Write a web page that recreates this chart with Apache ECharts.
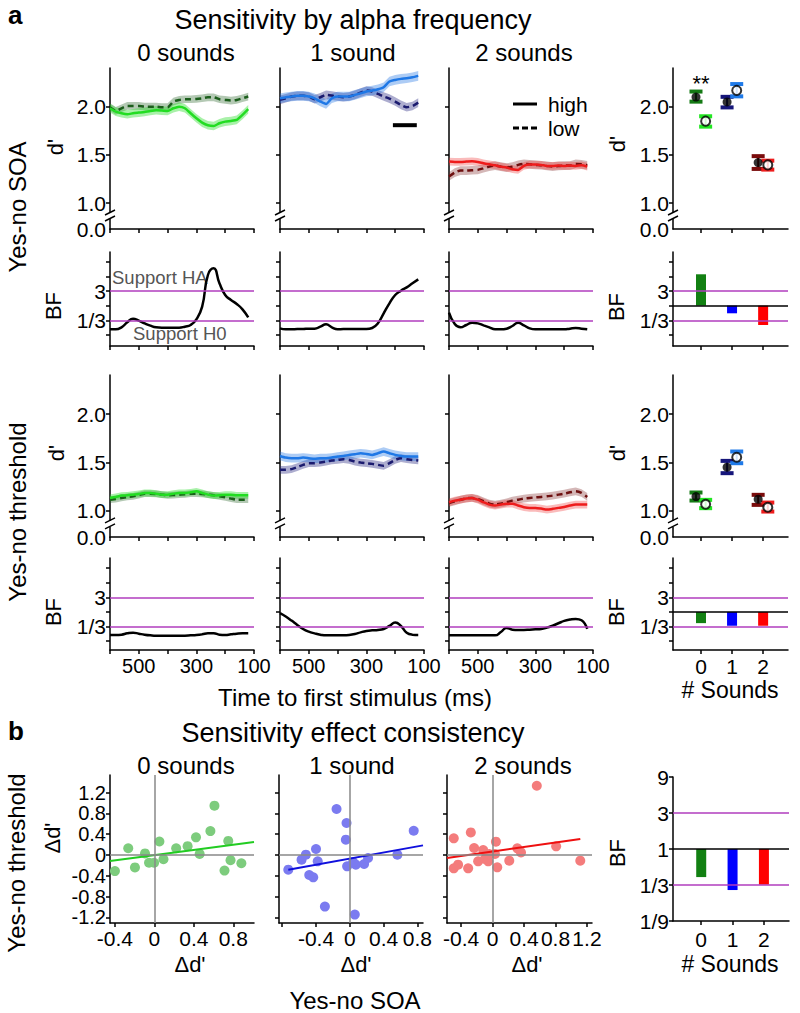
<!DOCTYPE html>
<html><head><meta charset="utf-8">
<script src="https://cdn.jsdelivr.net/npm/echarts@6/dist/echarts.min.js"></script>
<style>html,body{margin:0;padding:0;background:#fff}#c{width:800px;height:1013px}</style>
</head><body><div id="c"></div>
<script>
// ---------------- DATA ----------------
const time = [600,580,560,540,520,500,480,460,440,420,400,380,360,340,320,300,280,260,240,220,200,180,160,140,120];

// d' Yes-no SOA (high = solid, low = dashed)
const soaHigh0 = [1.986,1.951,1.934,1.924,1.934,1.941,1.948,1.958,1.965,1.962,1.958,1.986,2.003,1.986,1.934,1.882,1.837,1.809,1.802,1.830,1.847,1.854,1.865,1.917,1.976];
const soaLow0  = [1.997,1.958,1.986,2.010,2.010,2.010,2.003,2.003,2.003,1.997,1.997,2.056,2.073,2.080,2.080,2.083,2.090,2.100,2.100,2.080,2.073,2.066,2.073,2.090,2.108];
const soaHigh1 = [2.090,2.101,2.108,2.115,2.115,2.108,2.090,2.056,2.031,2.090,2.108,2.108,2.108,2.125,2.142,2.160,2.170,2.184,2.205,2.264,2.281,2.292,2.299,2.309,2.323];
const soaLow1  = [2.073,2.090,2.108,2.115,2.115,2.108,2.080,2.101,2.125,2.118,2.108,2.101,2.108,2.125,2.149,2.170,2.160,2.135,2.108,2.087,2.056,2.021,1.997,2.010,2.045];
const soaHigh2 = [1.431,1.428,1.428,1.431,1.434,1.428,1.414,1.403,1.393,1.379,1.369,1.352,1.345,1.386,1.400,1.400,1.397,1.386,1.386,1.390,1.386,1.390,1.386,1.393,1.379];
const soaLow2  = [1.276,1.317,1.338,1.338,1.341,1.345,1.362,1.379,1.390,1.379,1.369,1.379,1.397,1.407,1.403,1.397,1.393,1.386,1.379,1.386,1.390,1.390,1.407,1.403,1.393];
// d' Yes-no threshold
const thrHigh0 = [1.134,1.144,1.158,1.161,1.168,1.175,1.185,1.185,1.178,1.168,1.168,1.178,1.185,1.185,1.192,1.202,1.185,1.168,1.158,1.161,1.168,1.168,1.161,1.161,1.161];
const thrLow0  = [1.116,1.123,1.134,1.144,1.151,1.164,1.178,1.178,1.175,1.168,1.161,1.164,1.168,1.171,1.178,1.178,1.175,1.168,1.161,1.151,1.140,1.127,1.116,1.116,1.116];
const thrHigh1 = [1.568,1.551,1.545,1.545,1.551,1.545,1.538,1.545,1.545,1.551,1.562,1.568,1.579,1.586,1.596,1.589,1.579,1.596,1.613,1.596,1.579,1.568,1.562,1.562,1.562];
const thrLow1  = [1.425,1.425,1.432,1.452,1.476,1.493,1.493,1.500,1.510,1.521,1.527,1.534,1.527,1.510,1.500,1.493,1.486,1.476,1.466,1.493,1.527,1.545,1.534,1.527,1.521];
const thrHigh2 = [1.089,1.106,1.116,1.127,1.134,1.116,1.089,1.065,1.055,1.065,1.075,1.075,1.055,1.038,1.031,1.031,1.024,1.014,1.021,1.031,1.041,1.055,1.065,1.065,1.065];
const thrLow2  = [1.082,1.099,1.116,1.130,1.134,1.123,1.099,1.075,1.065,1.075,1.089,1.106,1.116,1.127,1.134,1.140,1.144,1.151,1.158,1.168,1.178,1.192,1.202,1.185,1.144];
// SEM half-widths of shaded bands [high, low] per sound condition
const semSoa = [[0.045,0.040],[0.050,0.045],[0.040,0.045]];
const semThr = [[0.035,0.035],[0.045,0.040],[0.040,0.040]];

// Bayes factors, log base 3 (1 -> BF 3, -1 -> BF 1/3)
const bfSoa0 = [-1.614,-1.614,-1.477,-1.136,-0.886,-1.023,-1.205,-1.364,-1.477,-1.5,-1.5,-1.5,-1.5,-1.432,-1.318,-0.932,-0.068,2.091,2.545,1.523,0.727,0.386,0.114,-0.25,-0.795];
const bfSoa1 = [-1.545,-1.614,-1.614,-1.591,-1.591,-1.568,-1.568,-1.432,-1.273,-1.477,-1.614,-1.591,-1.591,-1.591,-1.591,-1.591,-1.523,-1.205,-0.523,0.159,0.727,1.023,1.25,1.523,1.795];
const bfSoa2 = [-0.477,-1.25,-1.477,-1.318,-1.159,-1.205,-1.341,-1.477,-1.614,-1.614,-1.568,-1.386,-1.159,-1.341,-1.545,-1.614,-1.614,-1.614,-1.614,-1.614,-1.614,-1.568,-1.523,-1.568,-1.614];
const bfThr0 = [-1.575,-1.575,-1.552,-1.46,-1.414,-1.483,-1.552,-1.598,-1.621,-1.621,-1.621,-1.621,-1.621,-1.621,-1.598,-1.575,-1.529,-1.46,-1.46,-1.552,-1.575,-1.529,-1.483,-1.46,-1.46];
const bfThr1 = [-0.08,-0.31,-0.586,-0.885,-1.161,-1.345,-1.46,-1.552,-1.598,-1.598,-1.598,-1.598,-1.575,-1.506,-1.391,-1.299,-1.253,-1.23,-1.161,-0.954,-0.724,-0.954,-1.414,-1.552,-1.575];
const bfThr2 = [-1.598,-1.598,-1.598,-1.598,-1.598,-1.598,-1.598,-1.598,-1.598,-1.368,-1.092,-1.207,-1.23,-1.23,-1.207,-1.184,-1.161,-1.069,-0.931,-0.77,-0.609,-0.517,-0.471,-0.563,-1.161];

// summary d' (0,1,2 sounds)
const sumSoaLow  = {mean:[2.103,2.052,1.421], lo:[2.055,1.995,1.355], hi:[2.160,2.105,1.488]};
const sumSoaHigh = {mean:[1.852,2.172,1.397], lo:[1.795,2.110,1.348], hi:[1.903,2.238,1.441]};
const sumThrLow  = {mean:[1.148,1.452,1.121], lo:[1.107,1.390,1.062], hi:[1.190,1.517,1.166]};
const sumThrHigh = {mean:[1.069,1.555,1.038], lo:[1.028,1.493,0.993], hi:[1.114,1.614,1.086]};
// summary BF (log3)
const sumBfSoa = [2.14,-0.52,-1.32];
const sumBfThr = [-0.76,-0.94,-0.94];
const sumBfCons = [-0.78,-1.14,-0.99];

// panel b scatter [Δd' SOA, Δd' threshold]
const cons0 = [[-0.40,-0.31],[-0.265,0.13],[-0.197,-0.24],[-0.095,0.03],[-0.054,-0.15],[-0.003,-0.15],[0.051,0.26],[0.092,-0.08],[0.221,0.13],[0.337,0.17],[0.422,0.34],[0.459,0.02],[0.568,0.46],[0.609,0.95],[0.711,-0.30],[0.749,0.27],[0.772,-0.10],[0.882,-0.16]];
const cons1 = [[-0.728,-0.283],[-0.571,-0.09],[-0.52,0.006],[-0.48,-0.385],[-0.433,-0.43],[-0.40,0.115],[-0.38,-0.123],[-0.295,-0.994],[-0.157,0.885],[-0.039,0.615],[-0.047,0.294],[-0.032,-0.219],[0.059,-1.148],[0.071,-0.187],[0.039,-0.135],[0.169,-0.173],[0.216,-0.058],[0.563,0.006],[0.756,0.467]];
const cons2 = [[-0.494,0.32],[-0.494,-0.257],[-0.439,-0.187],[-0.311,-0.257],[-0.277,0.435],[-0.235,0.135],[-0.184,-0.122],[-0.12,0.096],[-0.098,-0.077],[-0.056,-0.122],[-0.043,0.019],[0.03,0.019],[0.042,0.256],[0.059,-0.238],[0.212,-0.11],[0.314,0.128],[0.361,0.05],[0.562,1.333],[0.808,0.166],[1.115,-0.11]];
const fit0 = [[-0.45,-0.115],[1.01,0.25]];
const fit1 = [[-0.728,-0.283],[0.866,0.185]];
const fit2 = [[-0.58,-0.058],[1.115,0.307]];
const scaleBar = [[208,1.81],[125,1.81]];
const sigMark = [0,2.24];

const dTicks = [1,1.5,2];
const bfTicks = [-2,-1,0,1,2,3];
const consTicksY = [-1.2,-0.8,-0.4,0,0.4,0.8,1.2];
const consTicksX = [[-0.4,0,0.4,0.8],[-0.8,-0.4,0,0.4,0.8],[-0.4,0,0.4,0.8,1.2]];
const consLabelsX = [[-0.4,0,0.4,0.8],[-0.4,0,0.4,0.8],[-0.4,0,0.4,0.8,1.2]];
const soundsTitles = ['0 sounds','1 sound','2 sounds'];

// ---------------- STYLE / LAYOUT ----------------
const FONT = "'Liberation Sans', Arial, Helvetica, sans-serif";
const chart = echarts.init(document.getElementById('c'), null, {renderer:'svg', width:800, height:1013});
const colL=[110,280,449,673], colW=[144,144,144,115];
const rowT=[68,252,375,558], rowH=[161,94,162,92];
const bL=[110,279,447,673], bW=[144,144,145,116];
const dRange=[0.73,2.405];
const bfRange=[[-2.75,3.66],[-2.6,3.7]];
const hiCol=['#22dd22','#1f78e6','#ee1c1c'], loCol=['#1b5e1b','#1a1a6e','#6e0f0f'];
const hiBand=['rgba(40,220,40,0.40)','rgba(40,120,230,0.38)','rgba(240,60,60,0.35)'];
const loBand=['rgba(40,100,40,0.35)','rgba(40,40,130,0.38)','rgba(120,30,30,0.32)'];
const capLo=['#157a15','#16167a','#7a0c0c'], capHi=['#22e622','#1f7ae8','#ee1c1c'];
const barCol=['#128012','#0000ff','#ff0000'];
const scatCol=['#7dcc7d','#7b7bf0','#f47c7c'], fitCol=['#22cc22','#1010dd','#ee1010'];
const MAG='#b03cbe';
const TS=21;

const grid=[], xAxis=[], yAxis=[], series=[];
const axLine={show:true,onZero:false,lineStyle:{color:'#000',width:1.5}};
const tick=(vals)=>({show:true,length:4,customValues:vals,lineStyle:{color:'#000',width:1.5}});
const lab=(show,vals,fmt,margin,fs)=>({show,customValues:vals,formatter:fmt,color:'#000',fontSize:fs||TS,lineHeight:16,fontFamily:FONT,
  interval:0,hideOverlap:false,showMinLabel:true,showMaxLabel:true,margin:margin==null?5:margin});
const dFmt=v=>v<0.9?'0.0':v.toFixed(1);
const bfFmt=v=>v>0?'3':'1/3';

for(let r=0;r<4;r++) for(let c=0;c<4;c++){
  const gi=r*4+c;
  grid.push({left:colL[c],top:rowT[r],width:colW[c],height:rowH[r],containLabel:false,outerBoundsMode:'none'});
  if(c<3){
    xAxis.push({type:'value',gridIndex:gi,min:100,max:600,interval:100,inverse:true,axisLine:axLine,splitLine:{show:false},
      axisTick:{show:true,length:4,lineStyle:{color:'#000',width:1.5}},
      axisLabel:{show:r===3,color:'#000',fontSize:20,lineHeight:16,fontFamily:FONT,margin:8,formatter:v=>(v===500||v===300||v===100)?String(v):''}});
  } else {
    xAxis.push({type:'value',gridIndex:gi,min:-0.9,max:2.8,axisLine:axLine,splitLine:{show:false},
      axisTick:tick([0,1,2]),axisLabel:lab(r===3,[0,1,2],v=>String(v),8)});
  }
  const showY=(c===0||c===3);
  if(r%2===0){
    yAxis.push({type:'value',gridIndex:gi,min:dRange[0],max:dRange[1],axisLine:axLine,splitLine:{show:false},
      axisTick:tick(dTicks),axisLabel:lab(showY,[0.73,1,1.5,2],dFmt,4)});
  } else {
    const br=bfRange[(r-1)/2];
    yAxis.push({type:'value',gridIndex:gi,min:br[0],max:br[1],axisLine:axLine,splitLine:{show:false},
      axisTick:tick(bfTicks),axisLabel:lab(showY,[1,-1],bfFmt,4)});
  }
}
for(let c=0;c<4;c++){
  const gi=16+c;
  if(c<3){
    grid.push({left:bL[c],top:775,width:bW[c],height:148,containLabel:false,outerBoundsMode:'none'});
    const xr=[[-0.45,1.01],[-0.838,0.866],[-0.58,1.264]][c];
    xAxis.push({type:'value',gridIndex:gi,min:xr[0],max:xr[1],axisLine:axLine,splitLine:{show:false},
      axisTick:tick(consTicksX[c]),axisLabel:lab(true,consLabelsX[c],v=>v===0?'0':String(v),7)});
    yAxis.push({type:'value',gridIndex:gi,min:-1.31,max:1.54,axisLine:axLine,splitLine:{show:false},
      axisTick:tick(consTicksY),axisLabel:lab(c===0,consTicksY,v=>v===0?'0':v.toFixed(1),4,20)});
  } else {
    grid.push({left:bL[c],top:777,width:bW[c],height:144,containLabel:false,outerBoundsMode:'none'});
    xAxis.push({type:'value',gridIndex:gi,min:-0.9,max:2.8,axisLine:axLine,splitLine:{show:false},
      axisTick:tick([0,1,2]),axisLabel:lab(true,[0,1,2],v=>String(v),10)});
    const m={'2':'9','1':'3','0':'1','-1':'1/3','-2':'1/9'};
    yAxis.push({type:'value',gridIndex:gi,min:-2,max:2,axisLine:axLine,splitLine:{show:false},
      axisTick:tick([-2,-1,0,1,2]),axisLabel:lab(true,[-2,-1,0,1,2],v=>m[String(v)],4)});
  }
}

function band(gi, ys, half, fill){
  return {type:'custom',xAxisIndex:gi,yAxisIndex:gi,silent:true,z:1,data:[[time[0],ys[0]]],encode:{x:0,y:1},
    renderItem:(p,api)=>{
      const up=time.map((t,i)=>api.coord([t,ys[i]+half]));
      const dn=time.map((t,i)=>api.coord([t,ys[i]-half])).reverse();
      return {type:'polygon',shape:{points:up.concat(dn)},style:{fill}};
    }};
}
function line(gi, ys, color, dashed, width, smooth){
  return {type:'line',xAxisIndex:gi,yAxisIndex:gi,data:time.map((t,i)=>[t,ys[i]]),showSymbol:false,symbol:'none',silent:true,z:2,
    smooth:smooth||0.2,lineStyle:{color,width:width||2.5,type:dashed?[6,4]:'solid'}};
}
const magLines=(extra)=>({silent:true,symbol:'none',label:{show:false},lineStyle:{color:MAG,width:1.5,type:'solid'},
  data:[{yAxis:1},{yAxis:-1}].concat(extra||[])});

const dRows=[[soaHigh0,soaHigh1,soaHigh2,soaLow0,soaLow1,soaLow2,semSoa],[thrHigh0,thrHigh1,thrHigh2,thrLow0,thrLow1,thrLow2,semThr]];
const bfRows=[[bfSoa0,bfSoa1,bfSoa2],[bfThr0,bfThr1,bfThr2]];
[0,1].forEach(k=>{
  const rr=k*2, D=dRows[k];
  for(let c=0;c<3;c++){
    const gi=rr*4+c;
    series.push(band(gi,D[3+c],D[6][c][1],loBand[c]));
    series.push(band(gi,D[c],D[6][c][0],hiBand[c]));
    series.push(line(gi,D[3+c],loCol[c],true,2.5));
    series.push(line(gi,D[c],hiCol[c],false,2.5));
    const gb=(rr+1)*4+c;
    const s=line(gb,bfRows[k][c],'#000',false,2.5,0.5);
    s.markLine=magLines();
    series.push(s);
  }
});
series.push({type:'line',xAxisIndex:1,yAxisIndex:1,data:scaleBar,showSymbol:false,symbol:'none',lineStyle:{color:'#000',width:4},z:3});

function errBars(gi, S, off, caps, filled){
  const data=S.mean.map((m,i)=>[i+off,m,S.lo[i],S.hi[i],i]);
  series.push({type:'custom',xAxisIndex:gi,yAxisIndex:gi,data,encode:{x:0,y:1},z:3,silent:true,
    renderItem:(p,api)=>{
      const x=api.value(0), top=api.coord([x,api.value(3)]), bot=api.coord([x,api.value(2)]), c=caps[api.value(4)];
      const w=13,th=4;
      return {type:'group',children:[
        {type:'line',shape:{x1:top[0],y1:top[1],x2:bot[0],y2:bot[1]},style:{stroke:c,lineWidth:2}},
        {type:'rect',shape:{x:top[0]-w/2,y:top[1]-th/2,width:w,height:th},style:{fill:c}},
        {type:'rect',shape:{x:bot[0]-w/2,y:bot[1]-th/2,width:w,height:th},style:{fill:c}}]};
    }});
  series.push({type:'scatter',xAxisIndex:gi,yAxisIndex:gi,data:data.map(d=>[d[0],d[1]]),symbolSize:9,z:4,silent:true,
    itemStyle:filled?{color:'#000'}:{color:'#fff',borderColor:'#000',borderWidth:2}});
}
errBars(3,sumSoaLow,-0.16,capLo,true);
errBars(3,sumSoaHigh,0.15,capHi,false);
errBars(11,sumThrLow,-0.16,capLo,true);
errBars(11,sumThrHigh,0.15,capHi,false);
series.push({type:'custom',xAxisIndex:3,yAxisIndex:3,data:[sigMark],encode:{x:0,y:1},z:5,silent:true,
  renderItem:(p,api)=>{const pt=api.coord([api.value(0),api.value(1)]);
    return {type:'text',x:pt[0],y:pt[1],style:{text:'**',fontSize:22,fontFamily:FONT,fill:'#000',align:'center',verticalAlign:'middle'}};}});

function bars(gi, vals, mark){
  series.push({type:'bar',xAxisIndex:gi,yAxisIndex:gi,barWidth:10,silent:true,
    data:vals.map((v,i)=>({value:[i,v],itemStyle:{color:barCol[i]}})),
    markLine:mark});
}
const blackZero={yAxis:0,lineStyle:{color:'#000',width:1.5}};
bars(7,sumBfSoa,magLines([blackZero]));
bars(15,sumBfThr,magLines([blackZero]));
bars(19,sumBfCons,magLines([blackZero]));

const consData=[cons0,cons1,cons2], fits=[fit0,fit1,fit2];
for(let c=0;c<3;c++){
  const gi=16+c;
  series.push({type:'line',xAxisIndex:gi,yAxisIndex:gi,data:[],silent:true,z:1,
    markLine:{silent:true,symbol:'none',label:{show:false},lineStyle:{color:'#888',width:1.5,type:'solid'},data:[{xAxis:0},{yAxis:0}]}});
  series.push({type:'scatter',xAxisIndex:gi,yAxisIndex:gi,data:consData[c],symbolSize:10,z:3,silent:true,itemStyle:{color:scatCol[c],opacity:1}});
  series.push({type:'line',xAxisIndex:gi,yAxisIndex:gi,data:fits[c],showSymbol:false,symbol:'none',silent:true,z:4,lineStyle:{color:fitCol[c],width:2}});
}

chart.setOption({animation:false,backgroundColor:'#fff',grid,xAxis,yAxis,series});

// ---------------- TEXT & DECORATION ----------------
const T=(x,y,text,size,o)=>Object.assign({type:'text',x,y,silent:true,style:{text,fontSize:size,fontFamily:FONT,fill:(o&&o.fill)||'#000',
  align:(o&&o.align)||'center',verticalAlign:'middle',fontWeight:(o&&o.bold)?'bold':'normal'}},(o&&o.rot)?{rotation:Math.PI/2}:{});
const g=[];
g.push(T(8,15,'a',26,{align:'left',bold:true}));
g.push(T(353,20,'Sensitivity by alpha frequency',27));
[186,353,524].forEach((x,i)=>g.push(T(x,52,soundsTitles[i],24)));
g.push(T(17,207,'Yes-no SOA',24,{rot:true}));
g.push(T(17,512,'Yes-no threshold',24,{rot:true}));
[[55,147],[56,453],[617,144],[617,453]].forEach(p=>g.push(T(p[0],p[1],"d'",22,{rot:true})));
[[53,306],[53,612],[616,307],[616,612],[617,853]].forEach(p=>g.push(T(p[0],p[1],'BF',22,{rot:true})));
g.push(T(112,277,'Support HA',18.5,{align:'left',fill:'#555'}));
g.push(T(133,333,'Support H0',18.5,{align:'left',fill:'#555'}));
g.push({type:'line',silent:true,shape:{x1:513,y1:104,x2:537,y2:104},style:{stroke:'#000',lineWidth:3}});
g.push({type:'line',silent:true,shape:{x1:513,y1:128,x2:537,y2:128},style:{stroke:'#000',lineWidth:3,lineDash:[6,3]}});
g.push(T(548,104,'high',21,{align:'left'}));
g.push(T(548,128,'low',21,{align:'left'}));
g.push(T(355,697,'Time to first stimulus (ms)',24));
g.push(T(730,690,'# Sounds',23));
g.push(T(8,731,'b',26,{align:'left',bold:true}));
g.push(T(353,733,'Sensitivity effect consistency',27));
[186,352,523].forEach((x,i)=>g.push(T(x,765,soundsTitles[i],24)));
[190,356,527].forEach(x=>g.push(T(x,964,"Δd'",22)));
g.push(T(355,1000,'Yes-no SOA',24));
g.push(T(16,863,'Yes-no threshold',24,{rot:true}));
g.push(T(52,838,"Δd'",22,{rot:true}));
g.push(T(730,964,'# Sounds',23));
// axis break marks
[0,1,2,3,8,9,10,11].forEach(gi=>{
  const y=chart.convertToPixel({yAxisIndex:gi},0.865);
  const x=colL[gi%4];
  g.push({type:'rect',silent:true,z:100,shape:{x:x-4,y:y-3,width:8,height:6},style:{fill:'#fff'}});
  g.push({type:'line',silent:true,z:101,shape:{x1:x-5,y1:y-1,x2:x+5,y2:y-6},style:{stroke:'#000',lineWidth:1.5}});
  g.push({type:'line',silent:true,z:101,shape:{x1:x-5,y1:y+5,x2:x+5,y2:y},style:{stroke:'#000',lineWidth:1.5}});
});
chart.setOption({graphic:{elements:g}});
</script></body></html>
